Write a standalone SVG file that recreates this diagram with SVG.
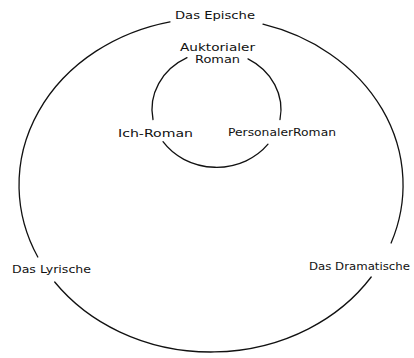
<svg xmlns="http://www.w3.org/2000/svg" width="414" height="358" viewBox="0 0 414 358">
  <style>
    .arc { fill: none; stroke: #111; stroke-width: 1.3; stroke-linecap: round; }
    .lbl { font-family: "DejaVu Sans", "Liberation Sans", sans-serif; font-size: 11px; fill: #111; }
    .sm { font-size: 10px; }
  </style>
  <rect x="0" y="0" width="414" height="358" fill="#fff"/>
  <g id="connectors">
    <g id="outer-circle">
      <path class="arc" d="M170,21.8 A192,167 0 0 0 37.8,257"/>
      <path class="arc" d="M54.7,282 A192,167 0 0 0 371.2,277"/>
      <path class="arc" d="M391.1,243 A192,167 0 0 0 263,24.2"/>
    </g>
    <g id="inner-circle">
      <path class="arc" d="M187,57.7 A64.5,58 0 0 0 153,119.5"/>
      <path class="arc" d="M163,141.7 A64.5,58 0 0 0 268,144.2"/>
      <path class="arc" d="M280,119.5 A64.5,58 0 0 0 248,58.9"/>
    </g>
  </g>
  <g id="das-epische">
    <text class="lbl" x="175" y="19" textLength="80" lengthAdjust="spacingAndGlyphs">Das Epische</text>
  </g>
  <g id="auktorialer-roman">
    <text class="lbl sm" x="180" y="51" textLength="75" lengthAdjust="spacingAndGlyphs">Auktorialer</text>
    <text class="lbl sm" x="195" y="63" textLength="45" lengthAdjust="spacingAndGlyphs">Roman</text>
  </g>
  <g id="ich-roman">
    <text class="lbl" x="118" y="137" textLength="75" lengthAdjust="spacingAndGlyphs">Ich-Roman</text>
  </g>
  <g id="personaler-roman">
    <text class="lbl" x="228" y="136" textLength="108" lengthAdjust="spacingAndGlyphs">PersonalerRoman</text>
  </g>
  <g id="das-lyrische">
    <text class="lbl" x="12" y="273" textLength="79" lengthAdjust="spacingAndGlyphs">Das Lyrische</text>
  </g>
  <g id="das-dramatische">
    <text class="lbl" x="309" y="270" textLength="101" lengthAdjust="spacingAndGlyphs">Das Dramatische</text>
  </g>
</svg>
